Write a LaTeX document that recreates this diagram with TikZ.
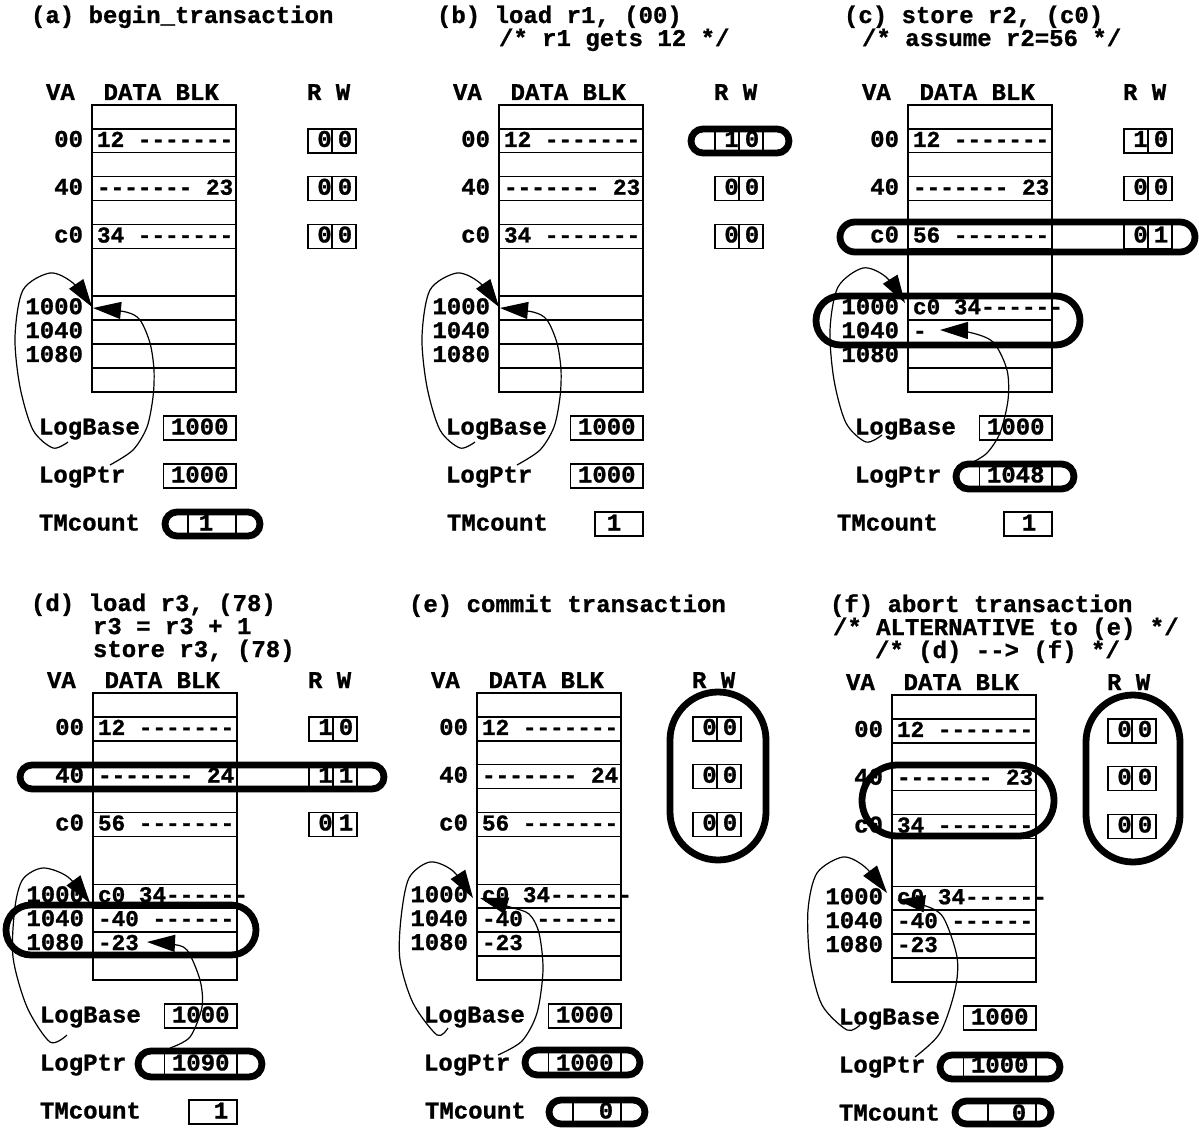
\documentclass[tikz,border=0pt]{standalone}
\usepackage{fontspec}
\setmonofont{Liberation Mono}[BoldFeatures={FakeBold=1}]
\usetikzlibrary{arrows.meta}
\newcommand\bigf{\ttfamily\bfseries\fontsize{24}{28}\selectfont}
\newcommand\smf{\ttfamily\bfseries\fontsize{22.7}{26}\selectfont}
\tikzset{
 lab/.style={font=\bigf, inner sep=0pt, outer sep=0pt, anchor=base west},
 labr/.style={font=\bigf, inner sep=0pt, outer sep=0pt, anchor=base east},
 labc/.style={font=\bigf, inner sep=0pt, outer sep=0pt, anchor=base},
 rowtxt/.style={font=\smf, inner sep=0pt, outer sep=0pt, anchor=base west},
 thin/.style={line width=1.4pt},
 box/.style={draw, line width=1.4pt, inner sep=0pt, outer sep=0pt, anchor=north west, minimum height=24pt},
 oval/.style={line width=6.8pt},
 arr/.style={line width=1.2pt, -{Triangle[length=28pt,width=17pt]}},
}
\newcommand\panelbase[2]{%
 \draw[thin] (0,0) rectangle (144,286.8);
 \foreach \yy in {23.9,47.8,71.7,95.6,119.5,143.4,191.2,215.1,239,262.9}{\draw[thin] (0,\yy) -- (144,\yy);}
 \node[lab] (#1-hva) at (-46,-5) {VA};
 \node[lab] (#1-hdb) at (11.6,-5) {DATA BLK};
 \node[lab] (#1-hrw) at (215,-5) {R W};
 \node[labr] (#1-v00) at (-9,41.9) {00};
 \node[labr] (#1-v40) at (-9,89.7) {40};
 \node[labr] (#1-vc0) at (-9,137.5) {c0};
 \node[labr] (#1-v1000) at (-9,209.2) {1000};
 \node[labr] (#1-v1040) at (-9,233.1) {1040};
 \node[labr] (#1-v1080) at (-9,257) {1080};
 \node[lab] (#1-lb) at (-53,329.5) {LogBase};
 \node[box, minimum width=72.5pt] (#1-lbb) at (71.5,311) {};
 \node[labc] (#1-lbv) at (107.75,329.5) {1000};
 \node[lab] (#1-lp) at (-53,377.5) {LogPtr};
 \node[box, minimum width=72.5pt] (#1-lpb) at (71.5,359) {};
 \node[lab] (#1-tm) at (#2,425.5) {TMcount};
 \node[box, minimum width=48pt] (#1-tmb) at (96,407) {};
}
\newcommand\rw[5]{%
 \node[box, minimum width=24pt] (#1-#2r) at (216,#3) {};
 \node[box, minimum width=24pt] (#1-#2w) at (240,#3) {};
 \node[labc] (#1-#2rv) at (232.5,{#3+18}) {#4};
 \node[labc] (#1-#2wv) at (253,{#3+18}) {#5};
}
\newcommand\rwset[7]{\rw{#1}{a}{23.9}{#2}{#3}\rw{#1}{b}{71.7}{#4}{#5}\rw{#1}{c}{119.5}{#6}{#7}}
\begin{document}
\begin{tikzpicture}[x=1pt,y=-1pt]
\useasboundingbox (0,0) rectangle (1199,1131);
\fill[white] (0,0) rectangle (1199,1131);

% ---------- (a)
\node[lab] (ta) at (31,23) {(a) begin\_transaction};
\begin{scope}[shift={(92,105)}]
\panelbase{a}{-53}
\rwset{a}{0}{0}{0}{0}{0}{0}
\node[rowtxt] (a-d00) at (5,41.9) {12 -------};
\node[rowtxt] (a-d40) at (5,89.7) {------- 23};
\node[rowtxt] (a-dc0) at (5,137.5) {34 -------};
\node[labc] (a-lpv) at (107.75,377.5) {1000};
\node[labc] (a-tmv) at (114,425.5) {1};
\coordinate (a-s1) at (-24,337); \coordinate (a-t1) at (0,202);
\coordinate (a-s2) at (18,360); \coordinate (a-t2) at (1,203);
\draw[arr] plot[smooth] coordinates {(a-s1) (-39,343) (-59,325) (-72,282) (-77,232) (-69,185) (-42,168) (-19,178) (a-t1)};
\draw[arr] plot[smooth] coordinates {(a-s2) (41,345) (55,322) (61,292) (62,265) (58,238) (48,215) (34,207) (a-t2)};
\end{scope}

% ---------- (b)
\node[lab] (tb1) at (437,23) {(b) load r1, (00)};
\node[lab] (tb2) at (499,46) {/* r1 gets 12 */};
\begin{scope}[shift={(499,105)}]
\panelbase{b}{-52}
\rwset{b}{1}{0}{0}{0}{0}{0}
\node[rowtxt] (b-d00) at (5,41.9) {12 -------};
\node[rowtxt] (b-d40) at (5,89.7) {------- 23};
\node[rowtxt] (b-dc0) at (5,137.5) {34 -------};
\node[labc] (b-lpv) at (107.75,377.5) {1000};
\node[labc] (b-tmv) at (115,425.5) {1};
\coordinate (b-s1) at (-24,337); \coordinate (b-t1) at (0,202);
\coordinate (b-s2) at (18,360); \coordinate (b-t2) at (1,203);
\draw[arr] plot[smooth] coordinates {(b-s1) (-39,343) (-59,325) (-72,282) (-77,232) (-69,185) (-42,168) (-19,178) (b-t1)};
\draw[arr] plot[smooth] coordinates {(b-s2) (41,345) (55,322) (61,292) (62,265) (58,238) (48,215) (34,207) (b-t2)};
\end{scope}

% ---------- (c)
\node[lab] (tc1) at (844,23) {(c) store r2, (c0)};
\node[lab] (tc2) at (862,46) {/* assume r2=56 */};
\begin{scope}[shift={(908,105)}]
\panelbase{c}{-71}
\rwset{c}{1}{0}{0}{0}{0}{1}
\node[rowtxt] (c-d00) at (5,41.9) {12 -------};
\node[rowtxt] (c-d40) at (5,89.7) {------- 23};
\node[rowtxt] (c-dc0) at (5,137.5) {56 -------};
\node[rowtxt] (c-d1000) at (5,209.2) {c0 34------};
\node[rowtxt] (c-d1040) at (5,233.1) {-};
\node[labc] (c-lpv) at (107.75,377.5) {1048};
\node[labc] (c-tmv) at (121,425.5) {1};
\coordinate (c-s1) at (-26,330); \coordinate (c-t1) at (-3,198);
\coordinate (c-s2) at (65,357); \coordinate (c-t2) at (32,225);
\draw[arr] plot[smooth] coordinates {(c-s1) (-42,337) (-62,318) (-74,275) (-78,225) (-70,182) (-45,163) (-22,172) (c-t1)};
\draw[arr] plot[smooth] coordinates {(c-s2) (79,348) (92,328) (100,295) (99,265) (85,237) (60,227) (c-t2)};
\end{scope}

% ---------- (d)
\node[lab] (td1) at (31,611) {(d) load r3, (78)};
\node[lab] (td2) at (93,634) {r3 = r3 + 1};
\node[lab] (td3) at (93,657) {store r3, (78)};
\begin{scope}[shift={(93,693)}]
\panelbase{d}{-53}
\rwset{d}{1}{0}{1}{1}{0}{1}
\node[rowtxt] (d-d00) at (5,41.9) {12 -------};
\node[rowtxt] (d-d40) at (5,89.7) {------- 24};
\node[rowtxt] (d-dc0) at (5,137.5) {56 -------};
\node[rowtxt] (d-d1000) at (5,209.2) {c0 34------};
\node[rowtxt] (d-d1040) at (5,233.1) {-40 ------};
\node[rowtxt] (d-d1080) at (5,257) {-23};
\node[labc] (d-lpv) at (107.75,377.5) {1090};
\node[labc] (d-tmv) at (128,425.5) {1};
\coordinate (d-s1) at (-26,342); \coordinate (d-t1) at (-3,210);
\coordinate (d-s2) at (77,355); \coordinate (d-t2) at (54,249);
\draw[arr] plot[smooth] coordinates {(d-s1) (-43,349) (-66,314) (-80,264) (-78,214) (-70,186) (-50,175) (-25,184) (d-t1)};
\draw[arr] plot[smooth] coordinates {(d-s2) (97,344) (109,314) (107,287) (94,257) (78,251) (d-t2)};
\end{scope}

% ---------- (e)
\node[lab] (te1) at (409,612) {(e) commit transaction};
\begin{scope}[shift={(477,693)}]
\panelbase{e}{-52}
\rwset{e}{0}{0}{0}{0}{0}{0}
\node[rowtxt] (e-d00) at (5,41.9) {12 -------};
\node[rowtxt] (e-d40) at (5,89.7) {------- 24};
\node[rowtxt] (e-dc0) at (5,137.5) {56 -------};
\node[rowtxt] (e-d1000) at (5,209.2) {c0 34------};
\node[rowtxt] (e-d1040) at (5,233.1) {-40 ------};
\node[rowtxt] (e-d1080) at (5,257) {-23};
\node[labc] (e-lpv) at (107.75,377.5) {1000};
\node[labc] (e-tmv) at (129,425.5) {0};
\coordinate (e-s1) at (-29,335); \coordinate (e-t1) at (-4,205);
\coordinate (e-s2) at (21,362); \coordinate (e-t2) at (3,205);
\draw[arr] plot[smooth] coordinates {(e-s1) (-40,342) (-64,310) (-77,267) (-76,225) (-68,185) (-47,169) (-24,178) (e-t1)};
\draw[arr] plot[smooth] coordinates {(e-s2) (45,348) (60,320) (66,277) (62,240) (52,221) (33,214) (e-t2)};
\end{scope}

% ---------- (f)
\node[lab] (tf1) at (830,612) {(f) abort transaction};
\node[lab] (tf2) at (833,635) {/* ALTERNATIVE to (e) */};
\node[lab] (tf3) at (875,658) {/* (d) --> (f) */};
\begin{scope}[shift={(892,695)}]
\panelbase{f}{-53}
\rwset{f}{0}{0}{0}{0}{0}{0}
\node[rowtxt] (f-d00) at (5,41.9) {12 -------};
\node[rowtxt] (f-d40) at (5,89.7) {------- 23};
\node[rowtxt] (f-dc0) at (5,137.5) {34 -------};
\node[rowtxt] (f-d1000) at (5,209.2) {c0 34------};
\node[rowtxt] (f-d1040) at (5,233.1) {-40 ------};
\node[rowtxt] (f-d1080) at (5,257) {-23};
\node[labc] (f-lpv) at (107.75,377.5) {1000};
\node[labc] (f-tmv) at (127,425.5) {0};
\coordinate (f-s1) at (-32,330); \coordinate (f-t1) at (-5,198);
\coordinate (f-s2) at (23,362); \coordinate (f-t2) at (5,205);
\draw[arr] plot[smooth] coordinates {(f-s1) (-45,335) (-70,310) (-82,265) (-84,215) (-75,178) (-49,162) (-27,172) (f-t1)};
\draw[arr] plot[smooth] coordinates {(f-s2) (48,338) (63,295) (65,262) (51,222) (31,210) (f-t2)};
\end{scope}

% ---------- highlight ovals
\draw[oval, rounded corners=11.99pt] (165,512) rectangle (260,536);
\draw[oval, rounded corners=11.99pt] (691,129) rectangle (789,153);
\draw[oval, rounded corners=14.99pt] (840,222) rectangle (1195,252);
\draw[oval, rounded corners=24.49pt] (816,296) rectangle (1080,345);
\draw[oval, rounded corners=12.49pt] (956,464) rectangle (1074,489);
\draw[oval, rounded corners=11.99pt] (20,765) rectangle (384,789);
\draw[oval, rounded corners=24.99pt] (6,905) rectangle (256,955);
\draw[oval, rounded corners=12.99pt] (138,1051) rectangle (262,1077);
\draw[oval, rounded corners=47.99pt] (670,692) rectangle (766,860);
\draw[oval, rounded corners=12.49pt] (525,1050) rectangle (640,1075);
\draw[oval, rounded corners=11.99pt] (549,1100) rectangle (645,1124);
\draw[oval, rounded corners=35.49pt] (862,765) rectangle (1054,836);
\draw[oval, rounded corners=46.99pt] (1086,695) rectangle (1180,862);
\draw[oval, rounded corners=11.99pt] (940,1055) rectangle (1060,1079);
\draw[oval, rounded corners=11.49pt] (955,1101) rectangle (1051,1124);
\end{tikzpicture}
\end{document}
